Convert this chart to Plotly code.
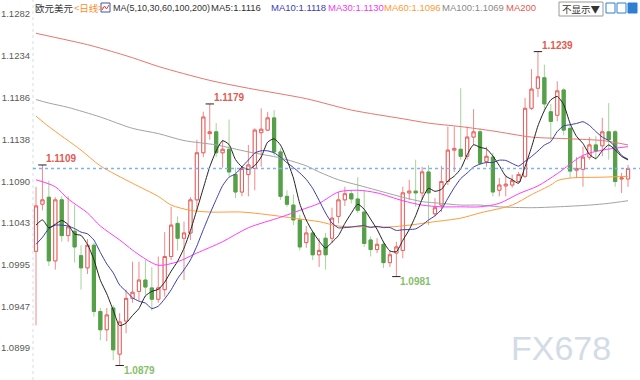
import plotly.graph_objects as go
import pandas as pd

# ---------------- data (EUR/USD daily) ----------------
opens = [1.1010, 1.1064, 1.1072, 1.0999, 1.1069, 1.1028, 1.1033, 1.1005, 1.0991, 1.1017,
         1.0941, 1.0920, 1.0945, 1.0892, 1.0930, 1.0956, 1.0964, 1.0977, 1.0968, 1.0955,
         1.0966, 1.1004, 1.1042, 1.1025, 1.1031, 1.1069, 1.1123, 1.1145, 1.1147, 1.1123,
         1.1127, 1.1098, 1.1078, 1.1098, 1.1105, 1.1146, 1.1149, 1.1163, 1.1124, 1.1073,
         1.1063, 1.1046, 1.1020, 1.1031, 1.1006, 1.1025, 1.1025, 1.1050, 1.1069, 1.1076,
         1.1070, 1.1055, 1.1023, 1.1012, 1.1018, 1.0997, 1.1008, 1.1011, 1.1077, 1.1079,
         1.1077, 1.1101, 1.1053, 1.1063, 1.1090, 1.1126, 1.1127, 1.1119, 1.1141, 1.1147,
         1.1113, 1.1118, 1.1080, 1.1085, 1.1086, 1.1090, 1.1096, 1.1174, 1.1197, 1.1209,
         1.1170, 1.1166, 1.1195, 1.1151, 1.1103, 1.1104, 1.1118, 1.1132, 1.1131, 1.1147,
         1.1147, 1.1093, 1.1093]
highs = [1.1084, 1.1109, 1.1091, 1.1072, 1.1073, 1.1073, 1.1063, 1.1017, 1.1024, 1.1020,
         1.0945, 1.0945, 1.0948, 1.0939, 1.0966, 1.0998, 1.0998, 1.1000, 1.0992, 1.1004,
         1.1032, 1.1061, 1.1050, 1.1044, 1.1072, 1.1138, 1.1170, 1.1179, 1.1157, 1.1138,
         1.1161, 1.1106, 1.1108, 1.1132, 1.1151, 1.1174, 1.1170, 1.1172, 1.1128, 1.1080,
         1.1075, 1.1052, 1.1039, 1.1034, 1.1025, 1.1031, 1.1060, 1.1078, 1.1084, 1.1080,
         1.1095, 1.1080, 1.1027, 1.1025, 1.1021, 1.1011, 1.1021, 1.1084, 1.1092, 1.1115,
         1.1107, 1.1109, 1.1071, 1.1108, 1.1153, 1.1153, 1.1197, 1.1153, 1.1173, 1.1151,
         1.1130, 1.1123, 1.1094, 1.1098, 1.1098, 1.1101, 1.1186, 1.1219, 1.1239, 1.1224,
         1.1179, 1.1205, 1.1197, 1.1155, 1.1118, 1.1130, 1.1141, 1.1142, 1.1163, 1.1180,
         1.1149, 1.1100, 1.1109]
lows = [1.0925, 1.1057, 1.0993, 1.0989, 1.1021, 1.1021, 1.0997, 1.0966, 1.0984, 1.0935,
        1.0908, 1.0907, 1.0885, 1.0879, 1.0916, 1.0951, 1.0954, 1.0958, 1.0942, 1.0951,
        1.0958, 1.1000, 1.1011, 1.0977, 1.1023, 1.1057, 1.1118, 1.1138, 1.1118, 1.1106,
        1.1096, 1.1071, 1.1073, 1.1073, 1.1080, 1.1107, 1.1148, 1.1120, 1.1069, 1.1061,
        1.1040, 1.1011, 1.1014, 1.1000, 1.0992, 1.0989, 1.1020, 1.1042, 1.1062, 1.1065,
        1.1054, 1.1015, 1.1004, 1.1008, 1.0991, 1.0992, 1.0981, 1.1002, 1.1069, 1.1061,
        1.1069, 1.1040, 1.1050, 1.1055, 1.1086, 1.1101, 1.1115, 1.1115, 1.1132, 1.1109,
        1.1107, 1.1073, 1.1073, 1.1073, 1.1083, 1.1088, 1.1094, 1.1172, 1.1187, 1.1170,
        1.1138, 1.1159, 1.1143, 1.1094, 1.1094, 1.1084, 1.1115, 1.1115, 1.1119, 1.1115,
        1.1084, 1.1077, 1.1084]
closes = [1.1062, 1.1069, 1.0999, 1.1069, 1.1028, 1.1038, 1.1015, 1.0991, 1.1017, 1.0941,
          1.0920, 1.0937, 1.0897, 1.0929, 1.0956, 1.0963, 1.0977, 1.0969, 1.0955, 1.0968,
          1.1004, 1.1040, 1.1025, 1.1031, 1.1069, 1.1123, 1.1164, 1.1147, 1.1123, 1.1127,
          1.1101, 1.1078, 1.1105, 1.1109, 1.1149, 1.1150, 1.1163, 1.1124, 1.1073, 1.1064,
          1.1046, 1.1015, 1.1031, 1.1006, 1.1011, 1.1006, 1.1048, 1.1069, 1.1076, 1.1070,
          1.1057, 1.1019, 1.1012, 1.1018, 1.0997, 1.1006, 1.1015, 1.1077, 1.1079, 1.1077,
          1.1101, 1.1077, 1.1060, 1.1090, 1.1126, 1.1128, 1.1119, 1.1141, 1.1147, 1.1111,
          1.1119, 1.1078, 1.1086, 1.1087, 1.1091, 1.1098, 1.1174, 1.1196, 1.1210, 1.1179,
          1.1159, 1.1194, 1.1149, 1.1102, 1.1105, 1.1118, 1.1132, 1.1125, 1.1147, 1.1138,
          1.1090, 1.1094, 1.1105]

# MA5 / MA10 values for the first bars (window not yet complete inside the view)
ma5_head = [1.1040, 1.1046, 1.1037, 1.1041]
ma10_head = [1.1018, 1.1026, 1.1036, 1.1040, 1.1040, 1.1039, 1.1036, 1.1032, 1.1030]

# longer moving averages (bar index, value)
ma30_idx = [0, 3, 5, 8, 10, 13, 16, 19, 22, 25, 29, 33, 38, 41, 44, 47, 50, 53, 57, 60,
            63, 66, 69, 72, 75, 78, 81, 85, 88, 92]
ma30_val = [1.1092, 1.1084, 1.1070, 1.1054, 1.1039, 1.1023, 1.1006, 1.0994, 1.0998, 1.1008,
            1.1021, 1.1037, 1.1049, 1.1057, 1.1065, 1.1078, 1.1080, 1.1077, 1.1068, 1.1063,
            1.1061, 1.1061, 1.1061, 1.1065, 1.1076, 1.1085, 1.1099, 1.1120, 1.1126, 1.1130]
ma60_idx = [0, 2, 7, 10, 15, 19, 21, 24, 27, 32, 36, 41, 44, 47, 51, 55, 58, 62, 66, 69,
            74, 77, 80, 81, 83, 88, 92]
ma60_val = [1.1165, 1.1153, 1.1126, 1.1108, 1.1088, 1.1073, 1.1063, 1.1057, 1.1055, 1.1055,
            1.1052, 1.1047, 1.1044, 1.1039, 1.1038, 1.1038, 1.1040, 1.1044, 1.1048, 1.1054,
            1.1063, 1.1075, 1.1086, 1.1091, 1.1094, 1.1095, 1.1096]
ma100_idx = [0, 2, 5, 10, 15, 19, 23, 28, 33, 38, 42, 44, 47, 50, 53, 57, 60, 63, 66, 69,
             72, 77, 81, 86, 89, 92]
ma100_val = [1.1184, 1.1180, 1.1175, 1.1164, 1.1151, 1.1145, 1.1137, 1.1132, 1.1124, 1.1117,
             1.1108, 1.1101, 1.1092, 1.1086, 1.1080, 1.1072, 1.1067, 1.1065, 1.1063, 1.1063,
             1.1061, 1.1060, 1.1061, 1.1063, 1.1065, 1.1068]
ma200_idx = [0, 8, 10, 15, 19, 27, 33, 42, 49, 57, 61, 66, 71, 77, 83, 88, 92]
ma200_val = [1.1260, 1.1247, 1.1243, 1.1232, 1.1222, 1.1206, 1.1197, 1.1185, 1.1172, 1.1162,
             1.1157, 1.1153, 1.1148, 1.1141, 1.1139, 1.1137, 1.1132]

y_ticks = [1.1282, 1.1234, 1.1186, 1.1138, 1.1090, 1.1043, 1.0995, 1.0947, 1.0899]
y_range = [1.08624, 1.12982]

# extreme value labels: (bar index, value, is_high)
extremes = [(1, 1.1109, True), (27, 1.1179, True), (78, 1.1239, True),
            (56, 1.0981, False), (13, 1.0879, False)]

legend_items = [("MA5:1.1116", "#333333"), ("MA10:1.1118", "#3c3cc0"),
                ("MA30:1.1130", "#f03cf0"), ("MA60:1.1096", "#ff9a33"),
                ("MA100:1.1069", "#8a8a8a"), ("MA200", "#e25a50")]

# ---------------- derived ----------------
n = len(closes)
x = list(range(n))
cl = pd.Series(closes)
ma5 = cl.rolling(5).mean().tolist()
ma5[:len(ma5_head)] = ma5_head
ma10 = cl.rolling(10).mean().tolist()
ma10[:len(ma10_head)] = ma10_head
body_hi = [max(o, c) for o, c in zip(opens, closes)]
body_lo = [min(o, c) for o, c in zip(opens, closes)]

RED = "#e8605e"
RED_WICK = "#ee8a88"
GREEN = "#55a049"
GREEN_WICK = "#a6d29a"

W, H = 640, 380
ML = 33
PW = W - ML

def px(xp):
    return (xp - ML) / PW

def py(yp):
    return 1 - yp / H

fig = go.Figure()

# wicks (light)
fig.add_trace(go.Candlestick(
    x=x, open=opens, high=highs, low=lows, close=closes,
    increasing=dict(line=dict(color=RED_WICK, width=1), fillcolor="white"),
    decreasing=dict(line=dict(color=GREEN_WICK, width=1), fillcolor=GREEN),
    whiskerwidth=0, showlegend=False, hoverinfo="skip"))
# bodies
fig.add_trace(go.Candlestick(
    x=x, open=opens, high=body_hi, low=body_lo, close=closes,
    increasing=dict(line=dict(color=RED, width=1), fillcolor="white"),
    decreasing=dict(line=dict(color=GREEN, width=1), fillcolor=GREEN),
    whiskerwidth=0, showlegend=False, hoverinfo="skip"))

for vals, idxs, col in [(ma200_val, ma200_idx, "#e8756e"),
                        (ma100_val, ma100_idx, "#a3a3a3"),
                        (ma60_val, ma60_idx, "#ff9c3a"),
                        (ma30_val, ma30_idx, "#ff3cff")]:
    fig.add_trace(go.Scatter(x=idxs, y=vals, mode="lines",
                             line=dict(color=col, width=1, shape="spline", smoothing=0.8),
                             showlegend=False, hoverinfo="skip"))
fig.add_trace(go.Scatter(x=x, y=ma10, mode="lines",
                         line=dict(color="#3a3ab0", width=1, shape="spline", smoothing=0.6),
                         showlegend=False, hoverinfo="skip"))
fig.add_trace(go.Scatter(x=x, y=ma5, mode="lines",
                         line=dict(color="#222222", width=1, shape="spline", smoothing=0.6),
                         showlegend=False, hoverinfo="skip"))

# extreme markers
fig.add_trace(go.Scatter(
    x=[e[0] for e in extremes],
    y=[highs[e[0]] if e[2] else lows[e[0]] for e in extremes],
    mode="markers",
    marker=dict(symbol="line-ew", size=6, line=dict(color="#222222", width=1)),
    showlegend=False, hoverinfo="skip"))

annotations = []
for i, v, is_high in extremes:
    annotations.append(dict(
        x=i, y=(highs[i] if is_high else lows[i]), xref="x", yref="y",
        text=f"<b>{v:.4f}</b>", showarrow=False, xanchor="left", yanchor="middle",
        xshift=3, yshift=(6 if is_high else -5), borderpad=0,
        font=dict(size=10, color=("#e25a50" if is_high else "#86be6a"),
                  family="Arial, Liberation Sans, sans-serif")))

# header
TOPY = py(7.5)
def head(txt, xp, col, fam="Arial, Liberation Sans", size=9.5):
    annotations.append(dict(x=px(xp), y=TOPY, xref="paper", yref="paper", text=txt,
                            showarrow=False, xanchor="left", yanchor="middle", borderpad=0,
                            font=dict(size=size, color=col, family=fam)))

head("欧元美元", 34, "#333333", "Noto Sans CJK SC", 9.5)
head("&lt;日线&gt;", 73, "#ff8a2a", "Noto Sans CJK SC", 9.5)
head("MA(5,10,30,60,100,200)", 112, "#333333", size=9)
leg_x = [210, 270, 327, 383, 441, 505]
for (txt, col), lx in zip(legend_items, leg_x):
    head(txt, lx, col)
annotations.append(dict(x=px(581), y=py(9), xref="paper", yref="paper", text="不显示▼",
                        showarrow=False, xanchor="center", yanchor="middle", borderpad=0,
                        font=dict(size=9.5, color="#333333", family="Noto Sans CJK SC")))
# watermark
annotations.append(dict(x=px(561), y=py(348), xref="paper", yref="paper", text="FX678",
                        showarrow=False, xanchor="center", yanchor="middle",
                        font=dict(size=34, color="#d3dce6", family="Arial, Liberation Sans")))

shapes = [
    dict(type="line", xref="paper", yref="paper", x0=0, x1=0, y0=0, y1=1,
         line=dict(color="#d2e0ea", width=1, dash="dot")),
    dict(type="line", xref="paper", yref="y", x0=0, x1=1, y0=closes[-1], y1=closes[-1],
         line=dict(color="#7eb2f2", width=1.5, dash="dot")),
    dict(type="rect", xref="paper", yref="paper", x0=px(101), x1=px(110), y0=py(12), y1=py(3),
         line=dict(color="#3a55b0", width=1), fillcolor="white"),
    dict(type="path", xref="paper", yref="paper",
         path=f"M {px(102)} {py(10)} L {px(104.5)} {py(6)} L {px(106.5)} {py(9)} L {px(109)} {py(5)}",
         line=dict(color="#e04040", width=1)),
    dict(type="rect", xref="paper", yref="paper", x0=px(559), x1=px(603), y0=py(16), y1=py(2),
         line=dict(color="#9a9a9a", width=1), fillcolor="white"),
    dict(type="rect", xref="paper", yref="paper", x0=px(606), x1=px(615), y0=py(13), y1=py(3),
         line=dict(color="#2f7fd0", width=1), fillcolor="white"),
    dict(type="rect", xref="paper", yref="paper", x0=px(617), x1=px(626), y0=py(13), y1=py(3),
         line=dict(color="#2f7fd0", width=1), fillcolor="white"),
    dict(type="rect", xref="paper", yref="paper", x0=px(628), x1=px(637), y0=py(13), y1=py(3),
         line=dict(color="#2f7fd0", width=1), fillcolor="#2f7fd0"),
]

fig.update_layout(
    width=W, height=H,
    margin=dict(l=ML, r=0, t=0, b=0, autoexpand=False),
    paper_bgcolor="white", plot_bgcolor="white",
    showlegend=False,
    annotations=annotations, shapes=shapes,
    xaxis=dict(range=[-0.466, 93.86], showgrid=False, zeroline=False, automargin=False,
               showticklabels=False, ticks="", rangeslider=dict(visible=False),
               fixedrange=True),
    yaxis=dict(range=y_range, tickvals=y_ticks, ticktext=[f"{t:.4f}" for t in y_ticks],
               showgrid=False, zeroline=False, ticks="", ticklabelstandoff=2,
               automargin=False,
               tickfont=dict(size=9.5, color="#5a5a5a", family="Arial, Liberation Sans"),
               fixedrange=True),
)

fig.write_html("out.html", config={"displayModeBar": False},
               post_script="document.body.style.margin='0';document.body.style.overflow='hidden';")
